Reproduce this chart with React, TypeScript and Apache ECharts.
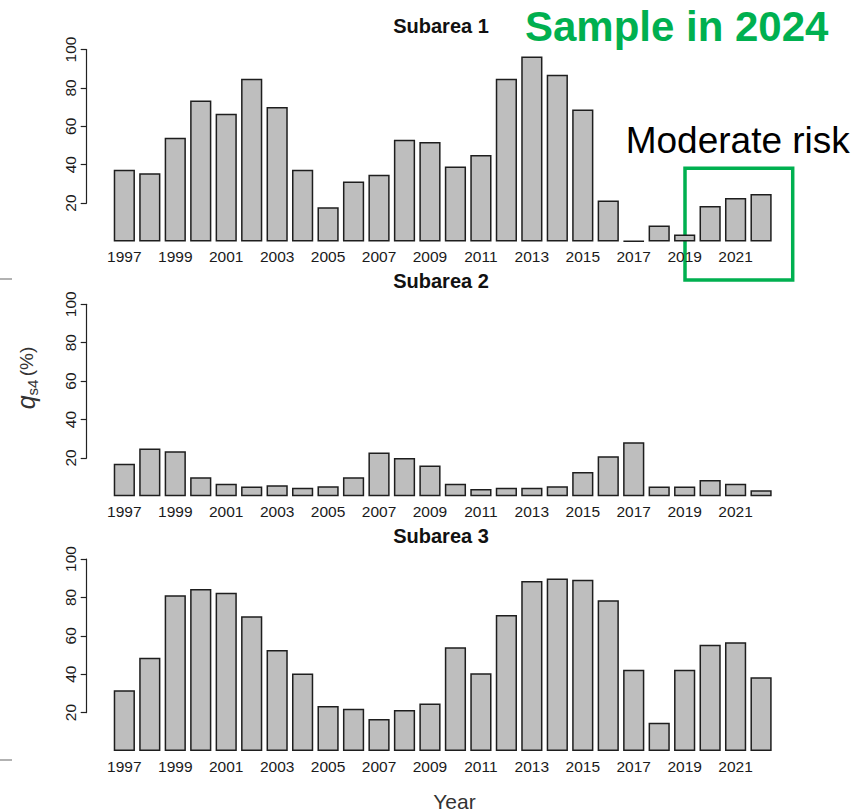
import React, { useEffect, useRef } from "react";
import * as echarts from "echarts";

const years = [
  "1997", "1998", "1999", "2000", "2001", "2002", "2003", "2004", "2005",
  "2006", "2007", "2008", "2009", "2010", "2011", "2012", "2013", "2014",
  "2015", "2016", "2017", "2018", "2019", "2020", "2021", "2022",
];

const subarea1 = [
  37.4, 35.5, 54, 73.4, 66.5, 84.8, 70, 37.4, 17.8, 31.3, 34.8, 53, 51.8,
  39, 45, 84.8, 96.3, 86.9, 68.7, 21.3, 0.3, 8.3, 3.6, 18.5, 22.7, 24.8,
];
const subarea2 = [
  16.9, 24.9, 23.5, 9.9, 6.6, 5.1, 5.75, 4.5, 5.2, 9.9, 22.8, 20, 16,
  6.6, 3.8, 4.5, 4.5, 5.2, 12.7, 20.9, 28.2, 5.1, 5.1, 8.5, 6.6, 3.1,
];
const subarea3 = [
  31.6, 48.6, 81.1, 84.4, 82.4, 70.2, 52.6, 40.3, 23.4, 22, 16.7, 21.4, 24.8,
  54, 40.5, 70.8, 88.5, 89.9, 89.2, 78.5, 42.3, 14.7, 42.3, 55.4, 56.6, 38.4,
];

const panelTitles = ["Subarea 1", "Subarea 2", "Subarea 3"];
const panelData = [subarea1, subarea2, subarea3];
const yTickMin = 20;
const yTickMax = 100;
const yTickStep = 20;

const FONT = "'Liberation Sans', Arial, sans-serif";
const GREEN = "#00B050";

export default function App() {
  const ref = useRef<HTMLDivElement>(null);

  useEffect(() => {
    if (!ref.current) return;
    const chart = echarts.init(ref.current, undefined, { renderer: "svg" });

    const tops = [49.5, 304.3, 559];
    const plotH = 192;
    const plotLeft = 111.6;
    const plotW = 662.2;
    const axisX = 86.7;

    const grids: any[] = [];
    const xAxes: any[] = [];
    const yAxes: any[] = [];
    const series: any[] = [];
    const graphics: any[] = [];

    tops.forEach((top, i) => {
      grids.push({ left: plotLeft, width: plotW, top, height: plotH });
      grids.push({
        left: axisX,
        width: 1,
        top,
        height: (plotH * (yTickMax - yTickMin)) / yTickMax,
      });
      xAxes.push({
        gridIndex: 2 * i,
        type: "category",
        data: years,
        axisLine: { show: false },
        axisTick: { show: false },
        axisLabel: {
          interval: 1,
          fontSize: 15.5,
          color: "#1a1a1a",
          fontFamily: FONT,
          margin: 7,
        },
      });
      xAxes.push({ gridIndex: 2 * i + 1, type: "value", show: false });
      yAxes.push({
        gridIndex: 2 * i,
        type: "value",
        min: 0,
        max: 100,
        show: false,
      });
      yAxes.push({
        gridIndex: 2 * i + 1,
        type: "value",
        min: yTickMin,
        max: yTickMax,
        interval: yTickStep,
        axisLine: { show: true, lineStyle: { color: "#222", width: 1.2 } },
        axisTick: { show: true, length: 6, lineStyle: { color: "#222", width: 1.2 } },
        axisLabel: {
          rotate: 90,
          fontSize: 15.5,
          color: "#1a1a1a",
          fontFamily: FONT,
          margin: 8,
        },
        splitLine: { show: false },
      });
      series.push({
        type: "bar",
        xAxisIndex: 2 * i,
        yAxisIndex: 2 * i,
        data: panelData[i],
        barCategoryGap: "16.7%",
        itemStyle: { color: "#BEBEBE", borderColor: "#1e1e1e", borderWidth: 1.5 },
        emphasis: { disabled: true },
      });
      graphics.push({
        type: "text",
        x: 441,
        y: top - 23.5,
        style: {
          text: panelTitles[i],
          fontSize: 20,
          fontWeight: "bold",
          fontFamily: FONT,
          fill: "#111",
          align: "center",
          verticalAlign: "middle",
        },
      });
    });

    graphics.push(
      {
        type: "text",
        x: 676.7,
        y: 26.7,
        style: {
          text: "Sample in 2024",
          fontSize: 42,
          fontWeight: "bold",
          fontFamily: FONT,
          fill: GREEN,
          align: "center",
          verticalAlign: "middle",
        },
      },
      {
        type: "text",
        x: 625.7,
        y: 140.5,
        style: {
          text: "Moderate risk",
          fontSize: 37,
          fontFamily: FONT,
          fill: "#000",
          align: "left",
          verticalAlign: "middle",
        },
      },
      {
        type: "rect",
        shape: { x: 685, y: 168.3, width: 107.7, height: 111.7 },
        style: { fill: "none", stroke: GREEN, lineWidth: 3.5 },
      },
      {
        type: "text",
        x: 26,
        y: 378,
        rotation: Math.PI / 2,
        style: {
          text: "{q|q}{s|s4} {p|(%)}",
          fontFamily: FONT,
          fill: "#333",
          align: "center",
          verticalAlign: "middle",
          rich: {
            q: { fontSize: 25, fontStyle: "italic", fontFamily: FONT, fill: "#333", lineHeight: 28 },
            s: { fontSize: 15, fontFamily: FONT, fill: "#333", verticalAlign: "bottom", lineHeight: 28 },
            p: { fontSize: 19, fontFamily: FONT, fill: "#333", lineHeight: 28 },
          },
        },
      },
      {
        type: "text",
        x: 454.5,
        y: 801,
        style: {
          text: "Year",
          fontSize: 21,
          fontFamily: FONT,
          fill: "#333",
          align: "center",
          verticalAlign: "middle",
        },
      },
      {
        type: "line",
        shape: { x1: 0, y1: 279, x2: 12, y2: 279 },
        style: { stroke: "#999", lineWidth: 1.5 },
      },
      {
        type: "line",
        shape: { x1: 0, y1: 760, x2: 12, y2: 760 },
        style: { stroke: "#999", lineWidth: 1.5 },
      }
    );

    chart.setOption({
      animation: false,
      backgroundColor: "#fff",
      grid: grids,
      xAxis: xAxes,
      yAxis: yAxes,
      series,
      graphic: graphics,
    });

    return () => chart.dispose();
  }, []);

  return (
    <div
      ref={ref}
      style={{ position: "absolute", left: 0, top: 0, width: 856, height: 811 }}
    />
  );
}
